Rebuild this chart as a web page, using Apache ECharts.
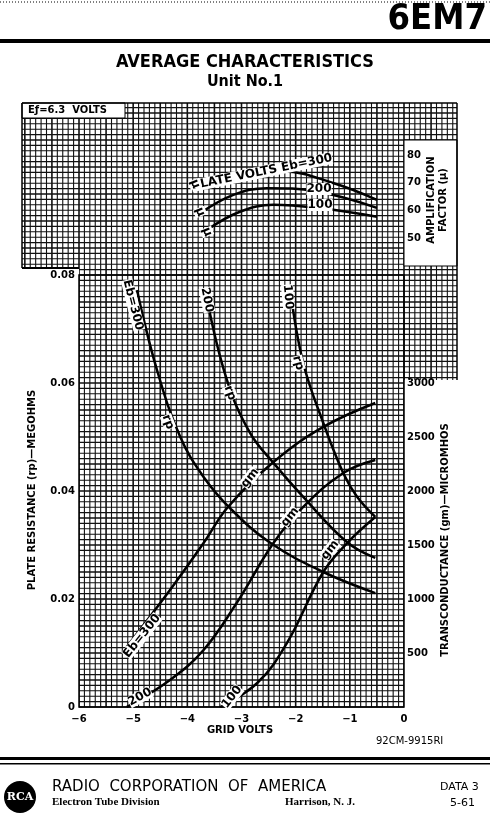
<!DOCTYPE html>
<html><head><meta charset="utf-8">
<script src="https://cdn.jsdelivr.net/npm/echarts@6/dist/echarts.min.js"></script>
<style>html,body{margin:0;padding:0;background:#fff}#c{width:490px;height:820px}</style>
</head><body><div id="c"></div>
<script>
const gridVolts = [-6,-5,-4,-3,-2,-1,0];
const rpTicks = [0,0.02,0.04,0.06,0.08];
const gmTicks = [500,1000,1500,2000,2500,3000];
const muTicks = [50,60,70,80];
// plate resistance (megohms) vs grid volts
const rp300 = [[-4.93,0.0772],[-4.56,0.0624],[-4.13,0.050],[-3.70,0.0426],[-3.21,0.0368],[-2.47,0.0304],[-1.49,0.025],[-0.53,0.0211]];
const rp200 = [[-3.64,0.0757],[-3.27,0.0606],[-2.84,0.0507],[-2.41,0.0452],[-1.86,0.0389],[-1.05,0.0305],[-0.53,0.0276]];
const rp100 = [[-2.10,0.0772],[-1.86,0.0637],[-1.49,0.0526],[-1.12,0.0433],[-0.87,0.039],[-0.53,0.0352]];
// transconductance (micromhos)
const gm300 = [[-5.12,556],[-4.32,1083],[-3.70,1518],[-3.25,1852],[-2.41,2268],[-1.49,2593],[-0.53,2815]];
const gm200 = [[-5.12,0],[-4.32,250],[-3.70,528],[-3.09,963],[-2.41,1518],[-1.86,1852],[-1.12,2167],[-0.53,2287]];
const gm100 = [[-3.39,0],[-2.71,222],[-2.16,593],[-1.49,1250],[-1.05,1518],[-0.53,1759]];
// amplification factor
const mu300 = [[-3.82,68.6],[-2.84,73.5],[-2.23,74],[-1.31,69.9],[-0.50,63.8]];
const mu200 = [[-3.76,59],[-3.15,65.6],[-2.53,68],[-1.61,66.8],[-0.50,60.9]];
const mu100 = [[-3.64,52.9],[-3.03,59.5],[-2.41,62],[-1.61,60.9],[-0.50,57.7]];

const ch = echarts.init(document.getElementById('c'));
const g = [];
const L=22,R=457,T=103,B=707,X0=79,X1=404,SX=(X1-X0)/60,SY=5.4;
for(let k=-12;;k++){const x=X0+k*SX; if(x<L-0.1) continue; if(x>R+0.1) break;
  g.push({type:'line',z:0,shape:{x1:x,y1:T,x2:x,y2:B},style:{stroke:'#111',lineWidth:(k%5===0)?1.6:1.1}});}
for(let k=0;;k++){const y=B-k*SY; if(y<T-0.1) break;
  g.push({type:'line',z:0,shape:{x1:L,y1:y,x2:R,y2:y},style:{stroke:'#111',lineWidth:(k%5===0)?1.6:1.1}});}
const wb=(x,y,w,h,s)=>g.push({type:'rect',z:1,shape:{x:x,y:y,width:w,height:h},style:{fill:'#fff',stroke:s?'#000':null,lineWidth:1}});
wb(22,103,103,15,true);
wb(404,140,53,126,true);
wb(0,268,X0,460,false);
wb(404,380,86,340,false);
wb(0,708,490,112,false);
g.push({type:'line',z:3,shape:{x1:L,y1:T,x2:R,y2:T},style:{stroke:'#000',lineWidth:1.5}});
g.push({type:'line',z:3,shape:{x1:L,y1:T,x2:L,y2:268},style:{stroke:'#000',lineWidth:1.5}});
g.push({type:'line',z:3,shape:{x1:R,y1:T,x2:R,y2:380},style:{stroke:'#000',lineWidth:1.5}});
g.push({type:'rect',z:3,shape:{x:X0,y:275,width:X1-X0,height:B-275},style:{fill:null,stroke:'#000',lineWidth:1.5}});
g.push({type:'line',z:3,shape:{x1:L,y1:268,x2:X0,y2:268},style:{stroke:'#000',lineWidth:2}});
const t=(x,y,s,o)=>g.push(Object.assign({type:'text',z:10,x:x,y:y,style:Object.assign({text:s,fill:'#000',font:'bold 11px "DejaVu Sans"'},o||{})}));
// header
g.push({type:'line',z:10,shape:{x1:0,y1:2,x2:490,y2:2},style:{stroke:'#000',lineWidth:1,lineDash:[1,2]}});
t(487,2,'6EM7',{font:'bold 36px "Liberation Sans Narrow","DejaVu Sans Condensed"',align:'right'});
g.push({type:'rect',z:10,shape:{x:0,y:39,width:490,height:4},style:{fill:'#000'}});
t(245,53,'AVERAGE CHARACTERISTICS',{font:'bold 18px "DejaVu Sans Condensed"',align:'center'});
t(245,74,'Unit No.1',{font:'bold 16px "DejaVu Sans Condensed"',align:'center'});
t(28,105,'E\u0192=6.3  VOLTS',{font:'bold 10px "DejaVu Sans"'});
t(376,736,'92CM-9915RI',{font:'10px "DejaVu Sans"'});
t(240,725,'GRID VOLTS',{font:'bold 10px "DejaVu Sans"',align:'center'});
g.push({type:'text',z:10,x:32,y:490,rotation:Math.PI/2,style:{text:'PLATE RESISTANCE (rp)\u2014MEGOHMS',font:'bold 10px "DejaVu Sans"',align:'center',verticalAlign:'middle',fill:'#000'}});
g.push({type:'text',z:10,x:445,y:540,rotation:Math.PI/2,style:{text:'TRANSCONDUCTANCE (gm)\u2014MICROMHOS',font:'bold 10px "DejaVu Sans"',align:'center',verticalAlign:'middle',fill:'#000'}});
g.push({type:'text',z:10,x:437,y:200,rotation:Math.PI/2,style:{text:'AMPLIFICATION\nFACTOR (\u03bc)',font:'bold 10px "DejaVu Sans"',align:'center',verticalAlign:'middle',fill:'#000',lineHeight:12}});
// footer
g.push({type:'rect',z:10,shape:{x:0,y:757,width:490,height:3},style:{fill:'#000'}});
g.push({type:'rect',z:10,shape:{x:0,y:763,width:490,height:1.5},style:{fill:'#000'}});
g.push({type:'circle',z:10,shape:{cx:20,cy:797,r:16},style:{fill:'#000'}});
t(20,797,'RCA',{fill:'#fff',font:'bold 11px "DejaVu Serif"',align:'center',verticalAlign:'middle'});
t(52,780,'RADIO  CORPORATION  OF  AMERICA',{font:'15px "DejaVu Sans"'});
t(52,797,'Electron Tube Division',{font:'bold 11px "Liberation Sans Narrow"'});
t(285,797,'Harrison, N. J.',{font:'bold 11px "Liberation Sans Narrow"'});
t(440,782,'DATA 3',{font:'11px "DejaVu Sans"'});
t(450,798,'5-61',{font:'11px "DejaVu Sans"'});
// curve labels
const ct=(x,y,s,r)=>g.push({type:'text',z:10,x:x,y:y,rotation:r,style:{text:s,font:'bold 12px "DejaVu Sans"',fill:'#000',backgroundColor:'#fff',align:'center',verticalAlign:'middle'}});
ct(133,305,'Eb=300',-Math.PI/2+0.25); ct(207,300,'200',-Math.PI/2+0.2); ct(288,297,'100',-Math.PI/2+0.1);
ct(168,422,'rp',-1.2); ct(230,393,'rp',-1.2); ct(298,363,'rp',-1.3);
ct(250,478,'gm',0.9); ct(290,517,'gm',0.9); ct(330,550,'gm',0.9);
ct(142,636,'Eb=300',0.9); ct(140,697,'200',0.5); ct(232,697,'100',0.9);
ct(262,172,'PLATE VOLTS Eb=300',0.2); ct(319,189,'200',0); ct(320,205,'100',0);
ct(195,184,'\u03bc',-1.2); ct(200,212,'\u03bc',-1.2); ct(207,232,'\u03bc',-1.2);

const ls={color:'#000',width:2.5};
const mk=(d,xi,yi)=>({type:'line',data:d,smooth:0.4,showSymbol:false,xAxisIndex:xi,yAxisIndex:yi,lineStyle:ls,z:5,animation:false});
const lab={color:'#000',fontWeight:'bold',fontSize:10,fontFamily:'DejaVu Sans'};
ch.setOption({
  animation:false,
  graphic:{elements:g},
  grid:[{left:X0,right:490-X1,top:275,bottom:820-B},{left:X0,right:490-X1,top:155,bottom:820-238}],
  xAxis:[
    {type:'value',gridIndex:0,z:20,min:-6,max:0,interval:1,axisLine:{show:false},axisTick:{show:false},splitLine:{show:false},
     axisLabel:Object.assign({margin:7,formatter:v=>gridVolts.includes(v)?String(v).replace('-','\u2212'):''},lab)},
    {type:'value',gridIndex:1,min:-6,max:0,show:false}
  ],
  yAxis:[
    {type:'value',gridIndex:0,z:20,min:0,max:0.08,interval:0.02,axisLine:{show:false},axisTick:{show:false},splitLine:{show:false},
     axisLabel:Object.assign({margin:4,formatter:v=>rpTicks.includes(+v.toFixed(2))?(v===0?'0':v.toFixed(2)):''},lab)},
    {type:'value',gridIndex:0,z:20,min:0,max:4000,interval:500,position:'right',axisLine:{show:false},axisTick:{show:false},splitLine:{show:false},
     axisLabel:Object.assign({margin:3,formatter:v=>gmTicks.includes(v)?String(v):''},lab)},
    {type:'value',gridIndex:1,z:20,min:50,max:80,interval:10,position:'right',axisLine:{show:false},axisTick:{show:false},splitLine:{show:false},
     axisLabel:Object.assign({margin:3,formatter:v=>muTicks.includes(v)?String(v):''},lab)}
  ],
  series:[mk(rp300,0,0),mk(rp200,0,0),mk(rp100,0,0),mk(gm300,0,1),mk(gm200,0,1),mk(gm100,0,1),mk(mu300,1,2),mk(mu200,1,2),mk(mu100,1,2)]
});
</script></body></html>
